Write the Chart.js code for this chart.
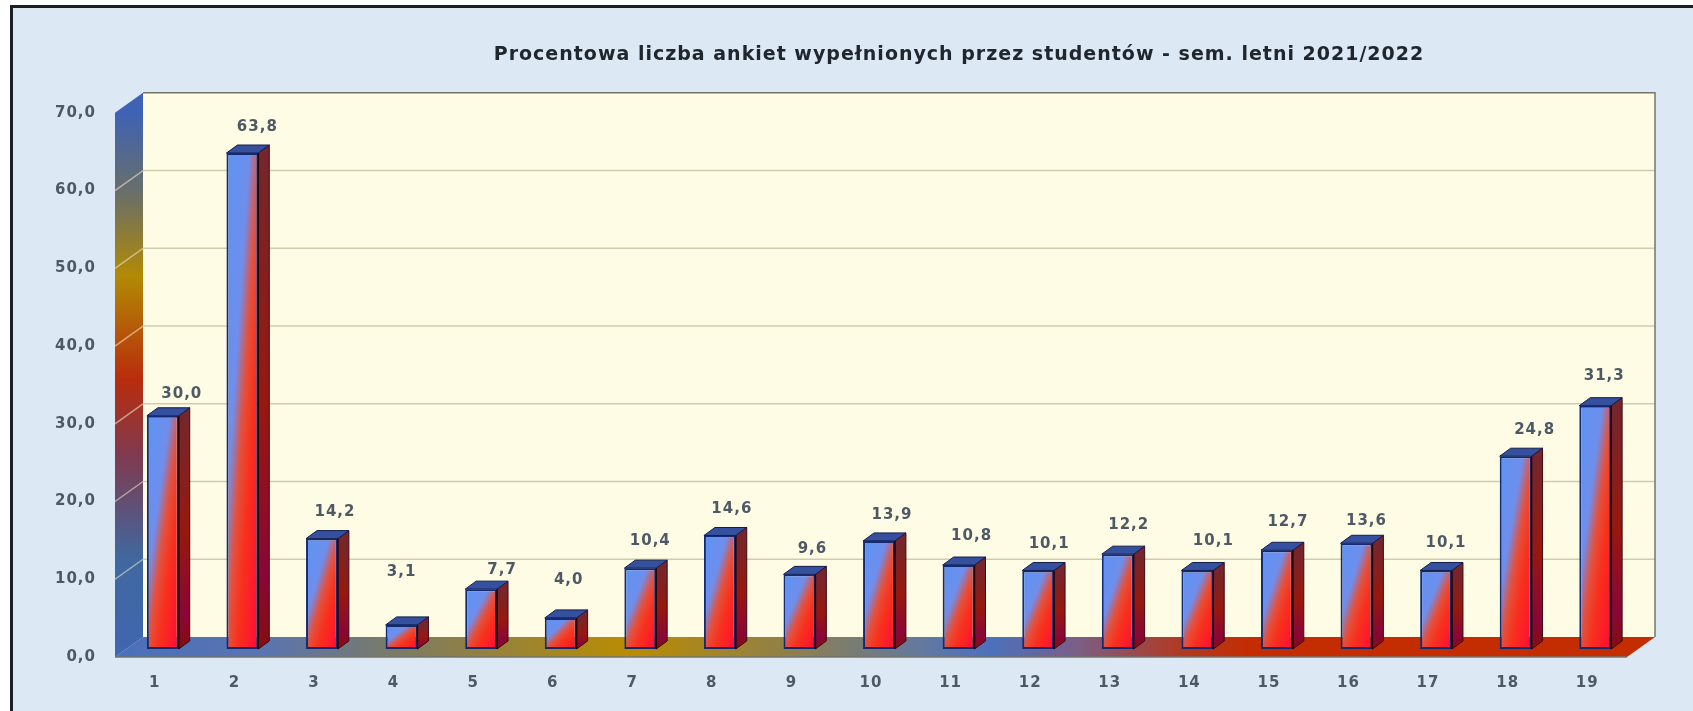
<!DOCTYPE html>
<html lang="pl">
<head>
<meta charset="utf-8">
<title>Procentowa liczba ankiet</title>
<script src="https://cdn.jsdelivr.net/npm/chart.js@4"></script>
<style>
    html, body { margin: 0; height: 100%; background: #fff; overflow: hidden; }
    #panel {
        position: absolute; left: 10px; top: 5px; right: 0; bottom: 0;
        border-left: 3px solid #1d1f24; border-top: 3px solid #1d1f24;
        background: #dde8f5;
    }
    #wrap { position: absolute; left: 0; top: 0; width: 1693px; height: 711px; filter: blur(0.7px); }
</style>
</head>
<body>
<div id="panel"></div>
<div id="wrap"><canvas id="chart" width="1693" height="711"></canvas></div>
<script>
const categories = ['1', '2', '3', '4', '5', '6', '7', '8', '9', '10', '11', '12', '13', '14', '15', '16', '17', '18', '19'];
const percentValues = [30.0, 63.8, 14.2, 3.1, 7.7, 4.0, 10.4, 14.6, 9.6, 13.9, 10.8, 10.1, 12.2, 10.1, 12.7, 13.6, 10.1, 24.8, 31.3];
const chartTitle = 'Procentowa liczba ankiet wypełnionych przez studentów - sem. letni 2021/2022';

// the source chart nudges each value label by hand
const labelNudgeX = [9, 5, 3, -10, 11, -2, 0, 2, 3, 3, 3, 1, 1, 6, 1, 0, 0, 9, -1];
const labelNudgeY = [-5, -9, -9, -36, -2, -21, -10, -9, -8, -9, -12, -9, -12, -12, -11, -5, -10, -9, -13];

const textColor = '#4d5a66';
const wallDepth = { x: 28, y: 20 };
const barShift = { x: 8, y: 8 };
const barDepth = { x: 11, y: 8 };

const comma = (v) => v.toFixed(1).replace('.', ',');

const gradientStops = (gradient, stops) => {
    stops.forEach(([at, color]) => gradient.addColorStop(at, color));
    return gradient;
};

const fillPoly = (ctx, points, fill) => {
    ctx.beginPath();
    points.forEach(([x, y], i) => (i ? ctx.lineTo(x, y) : ctx.moveTo(x, y)));
    ctx.closePath();
    ctx.fillStyle = fill;
    ctx.fill();
};

// front face: colour bands run along the bar's anti-diagonal
const barFill = (context) => {
    if (context.type !== 'data' || !context.chart.chartArea) {
        return '#5f9dfa';
    }
    const { chart, dataIndex } = context;
    const x = chart.scales.x.getPixelForValue(dataIndex);
    const top = chart.scales.y.getPixelForValue(percentValues[dataIndex]);
    const h = chart.scales.y.getPixelForValue(0) - top;
    const w = chart.scales.x.width / categories.length * 0.4;
    const len = Math.hypot(w, h);
    const reach = (w * h) / len;
    const dx = (h / len) * reach;
    const dy = (w / len) * reach;
    const cy = top + h / 2;
    return gradientStops(chart.ctx.createLinearGradient(x - dx, cy - dy, x + dx, cy + dy), [
        [0, '#5c94f4'],
        [0.36, '#6f8eec'],
        [0.52, '#e4503c'],
        [0.68, '#f8301c'],
        [1, '#ff0a38'],
    ]);
};

const scene3d = {
    id: 'scene3d',
    beforeDraw(chart) {
        // the original text runs a little wider than any installed face
        chart.ctx.letterSpacing = '1px';
    },
    beforeDatasetsDraw(chart) {
        const { ctx, chartArea: { left, right, top, bottom }, scales: { y } } = chart;
        const dx = wallDepth.x;
        const dy = wallDepth.y;

        ctx.save();
        // back wall
        fillPoly(ctx, [[left + dx, top - dy], [right + dx, top - dy], [right + dx, bottom - dy], [left + dx, bottom - dy]], '#fffce6');

        // floor
        fillPoly(ctx, [[left, bottom], [right, bottom], [right + dx, bottom - dy], [left + dx, bottom - dy]],
            gradientStops(ctx.createLinearGradient(left, 0, right, 0), [
                [0, '#4a70bc'],
                [0.1, '#5a74b0'],
                [0.19, '#7d7b62'],
                [0.34, '#ba8c02'],
                [0.44, '#928046'],
                [0.54, '#5f78a4'],
                [0.58, '#4c70bc'],
                [0.635, '#7a5f88'],
                [0.7, '#ad3c28'],
                [0.75, '#c42c02'],
                [1, '#c42c02'],
            ]));

        // left wall
        fillPoly(ctx, [[left, top], [left + dx, top - dy], [left + dx, bottom - dy], [left, bottom]],
            gradientStops(ctx.createLinearGradient(0, top, 0, bottom), [
                [0, '#3f62b4'],
                [0.15, '#6a6f68'],
                [0.3, '#b28a04'],
                [0.49, '#b92c0c'],
                [0.63, '#7f3a50'],
                [0.82, '#40689f'],
                [1, '#3f66b0'],
            ]));

        // gridlines sit on the walls
        y.ticks.forEach((tick) => {
            if (tick.value === 0 || tick.value === 70) {
                return;
            }
            const py = y.getPixelForValue(tick.value);
            ctx.lineWidth = 1.5;
            ctx.strokeStyle = '#cfccae';
            ctx.beginPath();
            ctx.moveTo(left + dx, py - dy);
            ctx.lineTo(right + dx, py - dy);
            ctx.stroke();
            ctx.strokeStyle = 'rgba(236, 226, 196, 0.6)';
            ctx.beginPath();
            ctx.moveTo(left, py);
            ctx.lineTo(left + dx, py - dy);
            ctx.stroke();
        });

        // outline
        ctx.strokeStyle = '#74746c';
        ctx.lineWidth = 1.5;
        ctx.beginPath();
        ctx.moveTo(left, bottom);
        ctx.lineTo(right, bottom);
        ctx.moveTo(left + dx, top - dy);
        ctx.lineTo(right + dx, top - dy);
        ctx.lineTo(right + dx, bottom - dy);
        ctx.stroke();
        ctx.restore();

        // bars sit partway into the floor
        ctx.save();
        ctx.translate(barShift.x, -barShift.y);
        chart.getDatasetMeta(0).data.forEach((bar) => {
            const l = bar.x - bar.width / 2;
            const r = bar.x + bar.width / 2;
            const side = [[r, bar.y], [r + barDepth.x, bar.y - barDepth.y], [r + barDepth.x, bar.base - barDepth.y], [r, bar.base]];
            fillPoly(ctx, side, gradientStops(ctx.createLinearGradient(0, bar.y, 0, bar.base), [
                [0, '#74262c'],
                [0.5, '#98180e'],
                [0.85, '#8a0636'],
                [1, '#840e0e'],
            ]));
            ctx.strokeStyle = '#3c0a14';
            ctx.lineWidth = 1;
            ctx.stroke();
            fillPoly(ctx, [[l, bar.y], [l + barDepth.x, bar.y - barDepth.y], [r + barDepth.x, bar.y - barDepth.y], [r, bar.y]], '#34509e');
            ctx.strokeStyle = '#121c4c';
            ctx.stroke();
        });
    },
    afterDatasetsDraw(chart) {
        const { ctx } = chart;
        ctx.strokeStyle = '#20080c';
        ctx.lineWidth = 1.5;
        chart.getDatasetMeta(0).data.forEach((bar) => {
            const r = bar.x + bar.width / 2;
            ctx.beginPath();
            ctx.moveTo(r, bar.y);
            ctx.lineTo(r, bar.base);
            ctx.stroke();
        });
        ctx.restore();

        // value labels
        ctx.save();
        ctx.font = 'bold 15px "DejaVu Sans"';
        ctx.fillStyle = textColor;
        ctx.textAlign = 'center';
        ctx.textBaseline = 'middle';
        chart.getDatasetMeta(0).data.forEach((bar, i) => {
            ctx.fillText(
                comma(percentValues[i]),
                bar.x + barShift.x + 10 + labelNudgeX[i],
                bar.y - barShift.y - 17 + labelNudgeY[i],
            );
        });
        ctx.restore();
    },
    afterLayout(chart) {
        // the title is centred over the plot, not over the whole image
        chart.titleBlock.left = 225;
        chart.titleBlock.right = 1693;
    },
};

new Chart(document.getElementById('chart'), {
    type: 'bar',
    data: {
        labels: categories,
        datasets: [{
            label: 'Procent',
            data: percentValues,
            backgroundColor: barFill,
            borderColor: '#142a70',
            borderWidth: 2,
            borderSkipped: false,
            barPercentage: 0.4,
            categoryPercentage: 1,
            clip: false,
        }],
    },
    options: {
        responsive: false,
        animation: false,
        layout: { padding: { left: 0, right: 66, top: 0, bottom: 0 } },
        plugins: {
            legend: { display: false },
            tooltip: { enabled: false },
            title: {
                display: true,
                text: chartTitle,
                color: '#20262e',
                font: { family: '"DejaVu Sans"', size: 19, weight: 'bold', lineHeight: 1.2 },
                padding: { top: 44, bottom: 46 },
            },
        },
        scales: {
            x: {
                grid: { display: false },
                border: { display: false },
                ticks: {
                    color: textColor,
                    font: { family: '"DejaVu Sans"', size: 15, weight: 'bold' },
                    padding: 9,
                    maxRotation: 0,
                },
                afterFit(scale) { scale.height = 54; },
            },
            y: {
                min: 0,
                max: 70,
                grid: { display: false },
                border: { display: false },
                ticks: {
                    stepSize: 10,
                    color: textColor,
                    font: { family: '"DejaVu Sans"', size: 15, weight: 'bold' },
                    padding: 11,
                    callback: (value) => comma(value),
                },
                afterFit(scale) { scale.width = 115; },
            },
        },
    },
    plugins: [scene3d],
});
</script>
</body>
</html>
